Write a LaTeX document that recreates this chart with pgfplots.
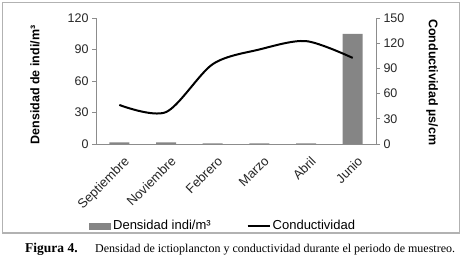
\documentclass[border=0pt]{standalone}
\usepackage{pgfplots}
\pgfplotsset{compat=1.18}
\usepackage{fontspec}
\setmainfont{Liberation Sans}
\newfontfamily\capfont{Liberation Serif}
\begin{document}
\begin{tikzpicture}[x=1pt,y=1pt]
\path[use as bounding box] (0,0) rectangle (462,260);
\draw[draw=black!30, line width=1.2pt] (2.5,27) rectangle (459.5,257.5);
\begin{axis}[
  at={(96pt,116pt)}, anchor=south west,
  scale only axis, width=280pt, height=126pt,
  xmin=-0.5, xmax=5.5, ymin=0, ymax=120,
  axis y line*=left, axis x line*=bottom,
  axis line style={-, draw=black!45, line width=0.8pt},
  ytick={0,30,60,90,120},
  xtick={0,1,2,3,4,5},
  xticklabels={Septiembre,Noviembre,Febrero,Marzo,Abril,Junio},
  xtick style={draw=none},
  ytick style={draw=black!45, line width=0.8pt},
  tick align=outside, major tick length=4pt,
  /pgf/number format/assume math mode=true,
  yticklabel style={font=\fontsize{12.5}{14}\selectfont, text=black!85},
  xticklabel style={font=\fontsize{13}{15}\selectfont, text=black!85, xshift=4pt, yshift=-6pt, rotate=45, anchor=north east, inner sep=1pt},
  ylabel={\textbf{Densidad de indi/m³}},
  ylabel style={font=\fontsize{12.5}{14}\selectfont, at={(axis description cs:-0.218,0.468)}, anchor=center},
  legend style={at={(axis description cs:0.454,-0.651)}, anchor=center, draw=none, fill=none,
    font=\fontsize{13}{15}\selectfont, legend columns=2,
    /tikz/every even column/.append style={column sep=34pt}, inner sep=0pt},
  legend cell align=left,
]
\addplot[ybar, bar width=20pt, fill=black!48, draw=none,
  legend image code/.code={\fill[black!48] (0pt,-3.5pt) rectangle (22pt,3.5pt);}]
  coordinates {(0,1.5) (1,1.5) (2,0.5) (3,0.5) (4,0.5) (5,105)};
\addlegendentry{Densidad indi/m³}
\addlegendimage{legend image code/.code={\draw[black, line width=2pt] (0pt,0pt) -- (22pt,0pt);}}
\addlegendentry{Conductividad}
\end{axis}
\begin{axis}[
  at={(96pt,116pt)}, anchor=south west,
  scale only axis, width=280pt, height=126pt,
  xmin=-0.5, xmax=5.5, ymin=0, ymax=150,
  axis y line*=right, axis x line=none,
  axis line style={-, draw=black!45, line width=0.8pt},
  ytick={0,30,60,90,120,150},
  ytick style={draw=black!45, line width=0.8pt},
  tick align=outside, major tick length=4pt,
  /pgf/number format/assume math mode=true,
  yticklabel style={font=\fontsize{12.5}{14}\selectfont, text=black!85},
  ylabel={\textbf{Conductividad µs/cm}},
  ylabel style={font=\fontsize{12.5}{14}\selectfont, at={(axis description cs:1.2,0.49)}, anchor=center, rotate=180},
]
\addplot[smooth, black, line width=2pt] coordinates {(0,46.5) (1,38) (2,95) (3,112.5) (4,122.5) (5,102.5)};
\end{axis}
\node[anchor=base west, inner sep=0pt] at (25,8) {\capfont\fontsize{13.5}{15}\selectfont\textbf{Figura 4.}};
\node[anchor=base west, inner sep=0pt] at (95,8) {\capfont\fontsize{12}{14}\selectfont Densidad de ictioplancton y conductividad durante el periodo de muestreo.};
\end{tikzpicture}
\end{document}
